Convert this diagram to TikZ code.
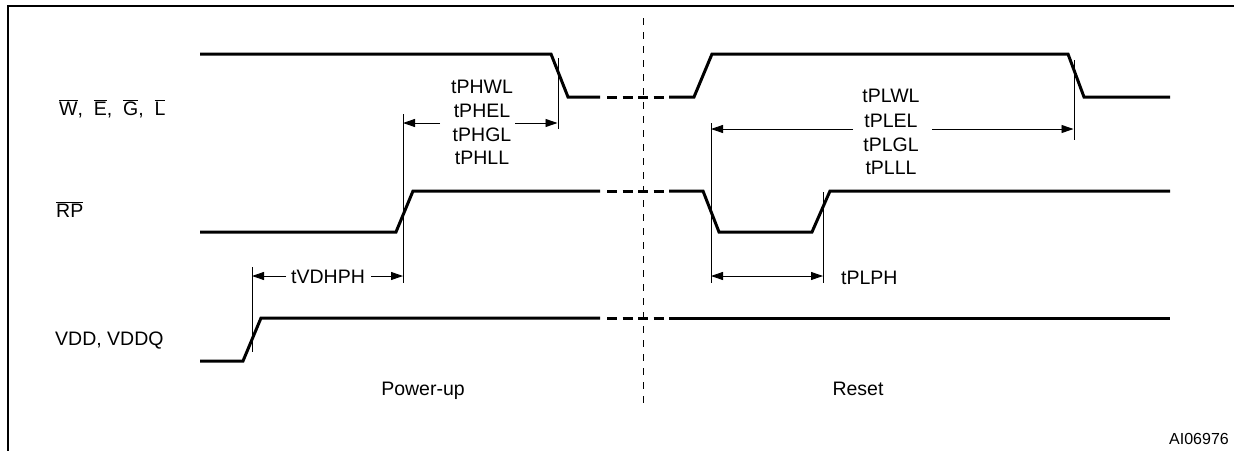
\documentclass[tikz,border=0pt]{standalone}
\usepackage{fontspec}
\setmainfont{Liberation Sans}
\usetikzlibrary{arrows.meta}
\newcommand\ovl[1]{$\overline{\mbox{#1}}$}
\begin{document}
\begin{tikzpicture}[x=1pt,y=-1pt,
  sig/.style={line width=3pt, line join=miter, line cap=butt},
  sigdash/.style={line width=3pt, dash pattern=on 10pt off 5.5pt},
  thinline/.style={line width=0.9pt},
  dimarrow/.style={line width=0.9pt, -{Triangle[length=12pt,width=8pt]}},
  dimboth/.style={line width=0.9pt, {Triangle[length=12pt,width=8pt]}-{Triangle[length=12pt,width=8pt]}},
  lbl/.style={font=\fontsize{19.5}{23}\selectfont, inner sep=0pt},
  small/.style={font=\fontsize{16}{19}\selectfont, inner sep=0pt},
  sep/.style={line width=0.9pt, dash pattern=on 7pt off 7pt}]
\useasboundingbox (0,0) rectangle (1234,450);
% frame
\draw[line width=2.5pt] (8,460) -- (8,6) -- (1240,6);
% separator
\draw[sep] (643,18) -- (643,410);
% W, E, G, L signal
\draw[sig] (200,54) -- (551,54) -- (568,97) -- (600,97);
\draw[sigdash] (607,97) -- (664,97);
\draw[sig] (669,97) -- (694,97) -- (712,54) -- (1068,54) -- (1084,97) -- (1170,97);
% RP signal
\draw[sig] (200,232) -- (396,232) -- (413,191) -- (600,191);
\draw[sigdash] (607,191) -- (664,191);
\draw[sig] (669,191) -- (703,191) -- (719,232) -- (812,232) -- (830,191) -- (1170,191);
% VDD signal
\draw[sig] (200,361) -- (243,361) -- (261,318) -- (600,318);
\draw[sigdash] (607,318) -- (664,318);
\draw[sig] (669,318) -- (1170,318);
% signal names
\node[lbl, anchor=base west] (nW) at (59,115) {\ovl{W},\ \ \ovl{E},\ \ \ovl{G},\ \ \ovl{L}};
\node[lbl, anchor=base west] (nRP) at (56,217) {\ovl{RP}};
\node[lbl, anchor=base west] (nVDD) at (55,345) {VDD, VDDQ};
\node[lbl, anchor=base] (pup) at (423,395) {Power-up};
\node[lbl, anchor=base] (rst) at (858,395) {Reset};
\node[small, anchor=base east] (ai) at (1229,444) {AI06976};
% tPHxL
\coordinate (a1t) at (403,114); \coordinate (a1b) at (403,283);
\coordinate (a2t) at (558,58); \coordinate (a2b) at (558,129);
\draw[thinline] (a1t) -- (a1b);
\draw[thinline] (a2t) -- (a2b);
\node[lbl, anchor=base] (t1) at (482,93) {tPHWL};
\node[lbl, anchor=base] (t2) at (482,117) {tPHEL};
\node[lbl, anchor=base] (t3) at (482,141) {tPHGL};
\node[lbl, anchor=base] (t4) at (482,164) {tPHLL};
\coordinate (a1m) at (403,123); \coordinate (a2m) at (557.5,123);
\coordinate (a1e) at (440,123); \coordinate (a2s) at (515,123);
\draw[dimarrow] (a1e) -- (a1m);
\draw[dimarrow] (a2s) -- (a2m);
% tVDHPH
\coordinate (v1t) at (252,267); \coordinate (v1b) at (252,352);
\draw[thinline] (v1t) -- (v1b);
\coordinate (v1m) at (252,276); \coordinate (v1e) at (286,276);
\coordinate (v2s) at (371,276); \coordinate (v2m) at (403,276);
\node[lbl, anchor=base] (tv) at (328,283) {tVDHPH};
\draw[dimarrow] (v1e) -- (v1m);
\draw[dimarrow] (v2s) -- (v2m);
% tPLxL
\coordinate (p1t) at (711,123); \coordinate (p1b) at (711,283);
\coordinate (p2t) at (1074,60); \coordinate (p2b) at (1074,140);
\draw[thinline] (p1t) -- (p1b);
\draw[thinline] (p2t) -- (p2b);
\node[lbl, anchor=base] (s1) at (891,102) {tPLWL};
\node[lbl, anchor=base] (s2) at (891,127) {tPLEL};
\node[lbl, anchor=base] (s3) at (891,151) {tPLGL};
\node[lbl, anchor=base] (s4) at (891,174) {tPLLL};
\coordinate (p1m) at (711,129); \coordinate (p1e) at (853,129);
\coordinate (p2s) at (932,129); \coordinate (p2m) at (1073.5,129);
\draw[dimarrow] (p1e) -- (p1m);
\draw[dimarrow] (p2s) -- (p2m);
% tPLPH
\coordinate (q2t) at (823,192); \coordinate (q2b) at (823,283);
\draw[thinline] (q2t) -- (q2b);
\coordinate (q1m) at (711,276); \coordinate (q2m) at (823,276);
\draw[dimboth] (q1m) -- (q2m);
\node[lbl, anchor=base west] (tq) at (841,284) {tPLPH};
\end{tikzpicture}
\end{document}
